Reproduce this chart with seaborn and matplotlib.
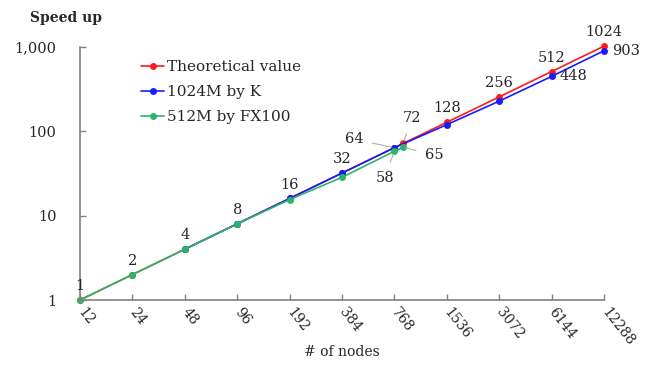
import matplotlib
matplotlib.use("Agg")
import matplotlib.pyplot as plt
import seaborn as sns
import pandas as pd
from matplotlib.ticker import FixedLocator, FixedFormatter, NullLocator

sns.set_theme(style="white")
plt.rcParams["font.family"] = ["DejaVu Serif", "Liberation Serif"]

# data
nodes_theory = [12, 24, 48, 96, 192, 384, 768, 864, 1536, 3072, 6144, 12288]
speed_theory = [1, 2, 4, 8, 16, 32, 64, 72, 128, 256, 512, 1024]
nodes_k = [48, 96, 192, 384, 768, 1536, 3072, 6144, 12288]
speed_k = [4, 8, 16, 32, 64, 120, 228, 448, 903]
nodes_fx = [12, 24, 48, 96, 192, 384, 768, 864]
speed_fx = [1, 2, 4, 8, 15.5, 28.5, 58, 65]

series_names = ["Theoretical value", "1024M by K", "512M by FX100"]
series_colors = ["#ff1a1a", "#1a1aff", "#2bb56a"]

x_ticks = [12, 24, 48, 96, 192, 384, 768, 1536, 3072, 6144, 12288]
x_tick_labels = ["12", "24", "48", "96", "192", "384", "768", "1536", "3072", "6144", "12288"]
y_ticks = [1, 10, 100, 1000]
y_tick_labels = ["1", "10", "100", "1,000"]

# labels above theoretical points
top_nodes = [12, 24, 48, 96, 192, 384, 1536, 3072, 6144, 12288]
top_values = [1, 2, 4, 8, 16, 32, 128, 256, 512, 1024]
# labels right of K points
right_nodes = [6144, 12288]
right_values = [448, 903]
# labels with leader lines around 768 nodes
leader_nodes = [768, 864, 864, 768]
leader_values = [64, 72, 65, 58]

df = pd.concat([
    pd.DataFrame({"nodes": nodes_theory, "speedup": speed_theory, "series": series_names[0]}),
    pd.DataFrame({"nodes": nodes_k, "speedup": speed_k, "series": series_names[1]}),
    pd.DataFrame({"nodes": nodes_fx, "speedup": speed_fx, "series": series_names[2]}),
], ignore_index=True)

fig = plt.figure(figsize=(6.54, 3.65), dpi=100)
ax = fig.add_axes([80 / 654, 1 - 300 / 365, 524 / 654, 253 / 365])

sns.lineplot(
    data=df, x="nodes", y="speedup", hue="series",
    hue_order=series_names, palette=dict(zip(series_names, series_colors)),
    marker="o", markersize=5, markeredgewidth=0, linewidth=1.2,
    errorbar=None, ax=ax, clip_on=False,
)

ax.set_xscale("log", base=2)
ax.set_yscale("log")
ax.set_xlim(12, 12288)
ax.set_ylim(1, 1000)

ax.xaxis.set_major_locator(FixedLocator(x_ticks))
ax.xaxis.set_major_formatter(FixedFormatter(x_tick_labels))
ax.xaxis.set_minor_locator(NullLocator())
ax.yaxis.set_major_locator(FixedLocator(y_ticks))
ax.yaxis.set_major_formatter(FixedFormatter(y_tick_labels))
ax.yaxis.set_minor_locator(NullLocator())

for side in ["top", "right"]:
    ax.spines[side].set_visible(False)
for side in ["left", "bottom"]:
    ax.spines[side].set_color("#808080")
    ax.spines[side].set_linewidth(1.2)

ax.tick_params(axis="y", direction="in", length=4, width=1, color="#808080",
               labelsize=10.5, pad=17, left=True)
ax.tick_params(axis="x", direction="in", length=4, width=1, color="#808080",
               labelsize=10, pad=7, bottom=True)
for lab in ax.get_xticklabels():
    lab.set_rotation(-52)
    lab.set_ha("left")
    lab.set_va("center")
    lab.set_rotation_mode("anchor")

ax.set_xlabel("")
ax.set_ylabel("")
ax.grid(False)

fig.text(30 / 654, 1 - 18 / 365, "Speed up", fontsize=10, fontweight="bold",
         ha="left", va="center")
fig.text(342 / 654, 1 - 352 / 365, "# of nodes", fontsize=10, ha="center", va="center")

# point labels
for n, v in zip(top_nodes, top_values):
    ax.annotate(str(v), (n, v), xytext=(0, 5), textcoords="offset points",
                ha="center", va="bottom", fontsize=10.5, annotation_clip=False)
for n, v in zip(right_nodes, right_values):
    ax.annotate(str(v), (n, v), xytext=(6, 0), textcoords="offset points",
                ha="left", va="center", fontsize=10.5, annotation_clip=False)

leader_offsets = [(-29, 6), (6, 18), (22, -6), (-7, -19)]
for n, v, off in zip(leader_nodes, leader_values, leader_offsets):
    ax.annotate(str(v), (n, v), xytext=off, textcoords="offset points",
                ha="center", va="center", fontsize=10.5, annotation_clip=False,
                arrowprops=dict(arrowstyle="-", color="#b0b0b0", lw=0.8,
                                shrinkA=4, shrinkB=2))

handles, labels = ax.get_legend_handles_labels()
ax.legend(handles, labels, loc="upper left", bbox_to_anchor=(135 / 654, 1 - 54 / 365),
          bbox_transform=fig.transFigure, frameon=False, fontsize=11,
          handlelength=1.5, handletextpad=0.2, labelspacing=0.72, borderaxespad=0)

fig.savefig("out.png", dpi=100)
